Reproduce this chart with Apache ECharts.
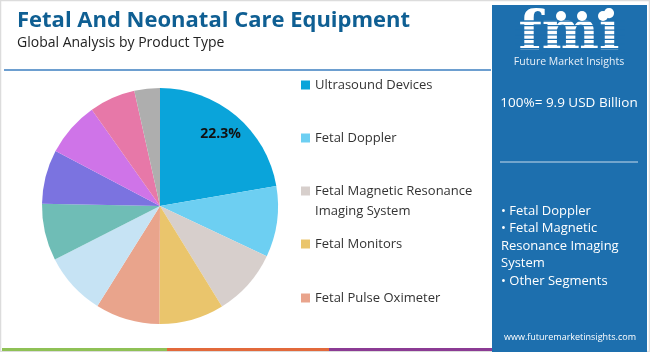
<!DOCTYPE html>
<html>
<head>
<meta charset="utf-8">
<script src="https://cdn.jsdelivr.net/npm/echarts@6/dist/echarts.min.js"></script>
<style>
  html, body { margin: 0; padding: 0; background: #fff; }
  #chart { width: 650px; height: 352px; }
</style>
</head>
<body>
<div id="chart"></div>
<script>
// product types, clockwise from 12 o'clock
const segments = ['Ultrasound Devices', 'Fetal Doppler', 'Fetal Magnetic Resonance Imaging System',
    'Fetal Monitors', 'Fetal Pulse Oximeter', 'Other 1', 'Other 2', 'Other 3', 'Other 4', 'Other 5', 'Other 6'];
const shares = [22.3, 9.7, 9.2, 8.9, 8.8, 8.6, 7.8, 7.4, 7.5, 6.3, 3.5];
const colors = ['#0aa4da', '#6dcff2', '#d7cfcc', '#eac56c', '#e9a48c', '#c6e3f4',
    '#6fbdb6', '#7b73e0', '#cf74e8', '#e778a8', '#aeaeae'];
const legendNames = segments.slice(0, 5);
const legendCenters = [85, 138, 191, 244, 298];
const sideBullets = ['• Fetal Doppler', '• Fetal Magnetic', 'Resonance Imaging', 'System', '• Other Segments'];

const FONT = '"Open Sans", sans-serif';
const PANEL = '#1d6fae';

const chart = echarts.init(document.getElementById('chart'));

const legends = legendNames.map((name, i) => {
    const twoLine = name.length > 30;
    return {
        data: [name],
        orient: 'vertical',
        left: 301,
        // two-line item: blank first line keeps the square level with the first text line
        top: twoLine ? legendCenters[i] - 30 : legendCenters[i] - 10,
        padding: 0,
        icon: 'rect',
        itemWidth: 9,
        itemHeight: 9,
        itemGap: 0,
        selectedMode: false,
        formatter: n => n === 'Fetal Magnetic Resonance Imaging System'
            ? ' \nFetal Magnetic Resonance\nImaging System' : n,
        textStyle: { fontFamily: FONT, fontSize: 13, color: '#333', lineHeight: 20 }
    };
});

const pieData = segments.map((name, i) => ({
    name: name, value: shares[i], itemStyle: { color: colors[i] }
}));

// stripes over the logo letters
const logoStripes = [];
for (let k = 0; k < 8; k++) {
    logoStripes.push({
        type: 'line', z: 30,
        shape: { x1: 515, y1: 21 + k * 4.6, x2: 625, y2: 21 + k * 4.6 },
        style: { stroke: PANEL, lineWidth: 1.3 }
    });
}

chart.setOption({
    animation: false,
    title: [
        { text: 'Fetal And Neonatal Care Equipment', left: 12, top: 5,
          textStyle: { fontFamily: FONT, fontSize: 22, fontWeight: 'bold', color: '#0f5f93' } },
        { text: 'Global Analysis by Product Type', left: 12, top: 31,
          textStyle: { fontFamily: FONT, fontSize: 14, fontWeight: 'normal', color: '#222' } }
    ],
    legend: legends,
    series: [
        {
            type: 'pie', center: [160, 206], radius: [0, 118], startAngle: 90, clockwise: true,
            silent: true, label: { show: false }, labelLine: { show: false },
            itemStyle: { borderWidth: 0 },
            data: pieData
        },
        {
            // transparent ring used to place the share label
            type: 'pie', center: [160, 206], radius: [64, 118], startAngle: 90, clockwise: true,
            silent: true, legendHoverLink: false,
            itemStyle: { color: 'transparent', borderWidth: 0 },
            labelLine: { show: false },
            data: segments.map((name, i) => ({
                name: name + ' ', value: shares[i],
                label: {
                    show: i === 0, position: 'inside', formatter: '{c}%',
                    fontFamily: FONT, fontSize: 14, fontWeight: 'bold', color: '#111'
                }
            }))
        }
    ],
    graphic: [
        { type: 'rect', z: -10, shape: { x: 0.5, y: 0.5, width: 649, height: 351 },
          style: { fill: '#fff', stroke: '#dcdcdc', lineWidth: 1.5 } },
        { type: 'line', shape: { x1: 4, y1: 70, x2: 491, y2: 70 },
          style: { stroke: '#3d7fc1', lineWidth: 1.5 } },
        { type: 'rect', shape: { x: 2, y: 348, width: 165, height: 3 }, style: { fill: '#8fc156' } },
        { type: 'rect', shape: { x: 167, y: 348, width: 162, height: 3 }, style: { fill: '#e2693b' } },
        { type: 'rect', shape: { x: 329, y: 348, width: 163, height: 3 }, style: { fill: '#8b3b94' } },
        { type: 'rect', z: 20, shape: { x: 492, y: 5, width: 155, height: 347 }, style: { fill: PANEL } },
        { type: 'text', z: 25, x: 569, y: 35,
          style: { text: 'fmi', font: 'bold 54px "DejaVu Serif", serif', fill: '#fff',
                   align: 'center', verticalAlign: 'middle' } },
        ...logoStripes,
        { type: 'circle', z: 31, shape: { cx: 561, cy: 16, r: 5 }, style: { fill: '#fff' } },
        { type: 'circle', z: 31, shape: { cx: 582, cy: 16, r: 5 }, style: { fill: '#fff' } },
        { type: 'circle', z: 31, shape: { cx: 603, cy: 16, r: 5 }, style: { fill: '#fff' } },
        { type: 'text', z: 31, x: 569, y: 62,
          style: { text: 'Future Market Insights', fill: '#e8f0f8', align: 'center', verticalAlign: 'middle',
                   font: '10.5px ' + FONT } },
        { type: 'text', z: 31, x: 569, y: 103,
          style: { text: '100%= 9.9 USD Billion', fill: '#fff', align: 'center', verticalAlign: 'middle',
                   font: '13.5px ' + FONT } },
        { type: 'line', z: 31, shape: { x1: 500, y1: 162, x2: 638, y2: 162 },
          style: { stroke: '#c9dcec', lineWidth: 1 } },
        ...sideBullets.map((t, i) => ({
            type: 'text', z: 31, x: 501, y: 211 + i * 17.5,
            style: { text: t, fill: '#fff', verticalAlign: 'middle', font: '13px ' + FONT }
        })),
        { type: 'text', z: 31, x: 570, y: 337,
          style: { text: 'www.futuremarketinsights.com', fill: '#fff', align: 'center', verticalAlign: 'middle',
                   font: '9px ' + FONT } }
    ]
});
</script>
</body>
</html>
